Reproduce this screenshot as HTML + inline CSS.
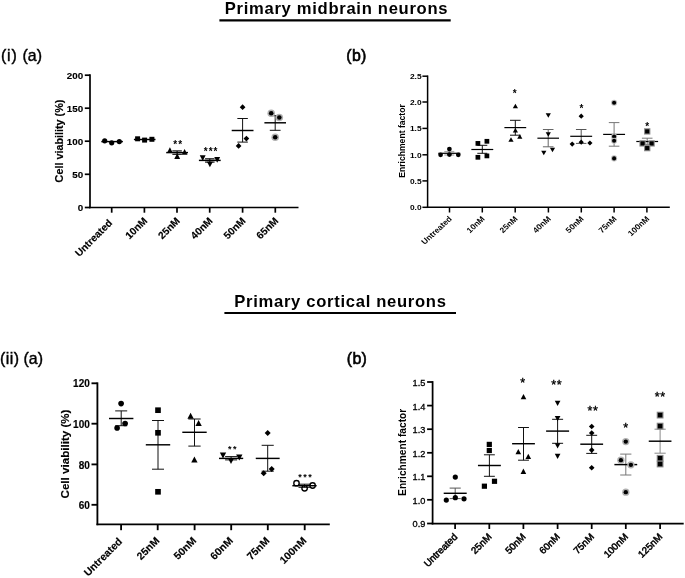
<!DOCTYPE html>
<html lang="en"><head><meta charset="utf-8"><title>Figure</title>
<style>
html,body{margin:0;padding:0;background:#fff;}
body{width:685px;height:578px;overflow:hidden;}
svg{display:block;font-family:'Liberation Sans', Arial, sans-serif;}
</style></head><body>
<svg width="685" height="578" viewBox="0 0 685 578" font-family="'Liberation Sans', Arial, sans-serif">
<rect width="685" height="578" fill="#fff"/>
<line x1="90.00" y1="74.35" x2="90.00" y2="208.35" stroke="#000" stroke-width="1.7" stroke-linecap="butt"/>
<line x1="89.15" y1="207.50" x2="298.50" y2="207.50" stroke="#000" stroke-width="1.7" stroke-linecap="butt"/>
<line x1="84.80" y1="207.50" x2="90.00" y2="207.50" stroke="#000" stroke-width="1.7" stroke-linecap="butt"/>
<text x="83.20" y="211.03" font-size="9.8" font-weight="bold" text-anchor="end" fill="#000" stroke="#000" stroke-width="0.15">0</text>
<line x1="84.80" y1="174.30" x2="90.00" y2="174.30" stroke="#000" stroke-width="1.7" stroke-linecap="butt"/>
<text x="83.20" y="177.83" font-size="9.8" font-weight="bold" text-anchor="end" fill="#000" stroke="#000" stroke-width="0.15">50</text>
<line x1="84.80" y1="141.20" x2="90.00" y2="141.20" stroke="#000" stroke-width="1.7" stroke-linecap="butt"/>
<text x="83.20" y="144.73" font-size="9.8" font-weight="bold" text-anchor="end" fill="#000" stroke="#000" stroke-width="0.15">100</text>
<line x1="84.80" y1="108.20" x2="90.00" y2="108.20" stroke="#000" stroke-width="1.7" stroke-linecap="butt"/>
<text x="83.20" y="111.73" font-size="9.8" font-weight="bold" text-anchor="end" fill="#000" stroke="#000" stroke-width="0.15">150</text>
<line x1="84.80" y1="75.20" x2="90.00" y2="75.20" stroke="#000" stroke-width="1.7" stroke-linecap="butt"/>
<text x="83.20" y="78.73" font-size="9.8" font-weight="bold" text-anchor="end" fill="#000" stroke="#000" stroke-width="0.15">200</text>
<line x1="111.70" y1="207.50" x2="111.70" y2="212.70" stroke="#000" stroke-width="1.7" stroke-linecap="butt"/>
<text x="112.90" y="223.70" font-size="10.2" font-weight="bold" text-anchor="end" fill="#000" transform="rotate(-45 112.90 223.70)" stroke="#000" stroke-width="0.15">Untreated</text>
<line x1="144.40" y1="207.50" x2="144.40" y2="212.70" stroke="#000" stroke-width="1.7" stroke-linecap="butt"/>
<text x="148.00" y="221.40" font-size="10.2" font-weight="bold" text-anchor="end" fill="#000" transform="rotate(-45 148.00 221.40)" stroke="#000" stroke-width="0.15">10nM</text>
<line x1="177.00" y1="207.50" x2="177.00" y2="212.70" stroke="#000" stroke-width="1.7" stroke-linecap="butt"/>
<text x="180.60" y="221.40" font-size="10.2" font-weight="bold" text-anchor="end" fill="#000" transform="rotate(-45 180.60 221.40)" stroke="#000" stroke-width="0.15">25nM</text>
<line x1="209.70" y1="207.50" x2="209.70" y2="212.70" stroke="#000" stroke-width="1.7" stroke-linecap="butt"/>
<text x="213.30" y="221.40" font-size="10.2" font-weight="bold" text-anchor="end" fill="#000" transform="rotate(-45 213.30 221.40)" stroke="#000" stroke-width="0.15">40nM</text>
<line x1="242.60" y1="207.50" x2="242.60" y2="212.70" stroke="#000" stroke-width="1.7" stroke-linecap="butt"/>
<text x="246.20" y="221.40" font-size="10.2" font-weight="bold" text-anchor="end" fill="#000" transform="rotate(-45 246.20 221.40)" stroke="#000" stroke-width="0.15">50nM</text>
<line x1="275.30" y1="207.50" x2="275.30" y2="212.70" stroke="#000" stroke-width="1.7" stroke-linecap="butt"/>
<text x="278.90" y="221.40" font-size="10.2" font-weight="bold" text-anchor="end" fill="#000" transform="rotate(-45 278.90 221.40)" stroke="#000" stroke-width="0.15">65nM</text>
<text x="63.20" y="141.00" font-size="10.8" font-weight="bold" text-anchor="middle" fill="#000" transform="rotate(-90 63.20 141.00)" stroke="#000" stroke-width="0.15">Cell viability (%)</text>
<line x1="101.30" y1="141.60" x2="122.90" y2="141.60" stroke="#000" stroke-width="1.45" stroke-linecap="butt"/>
<circle cx="104.70" cy="140.80" r="2.60" fill="#000"/>
<circle cx="111.70" cy="142.80" r="2.60" fill="#000"/>
<circle cx="119.30" cy="141.60" r="2.60" fill="#000"/>
<line x1="133.90" y1="139.50" x2="155.50" y2="139.50" stroke="#000" stroke-width="1.45" stroke-linecap="butt"/>
<rect x="135.11" y="136.31" width="4.98" height="4.98" fill="#000"/>
<rect x="142.11" y="137.61" width="4.98" height="4.98" fill="#000"/>
<rect x="149.41" y="136.81" width="4.98" height="4.98" fill="#000"/>
<line x1="177.10" y1="150.90" x2="177.10" y2="154.30" stroke="#000" stroke-width="1.1" stroke-linecap="butt"/>
<line x1="172.35" y1="150.90" x2="181.85" y2="150.90" stroke="#000" stroke-width="1.1" stroke-linecap="butt"/>
<line x1="172.35" y1="154.30" x2="181.85" y2="154.30" stroke="#000" stroke-width="1.1" stroke-linecap="butt"/>
<line x1="166.20" y1="152.60" x2="188.00" y2="152.60" stroke="#000" stroke-width="1.45" stroke-linecap="butt"/>
<polygon points="169.90,147.36 172.84,152.95 166.96,152.95" fill="#000"/>
<polygon points="177.20,153.36 180.14,158.95 174.26,158.95" fill="#000"/>
<polygon points="184.60,149.06 187.54,154.65 181.66,154.65" fill="#000"/>
<text x="173.31" y="148.40" font-size="10" font-weight="bold" text-anchor="start" fill="#000" letter-spacing="1.0">**</text>
<line x1="209.80" y1="158.80" x2="209.80" y2="162.10" stroke="#000" stroke-width="1.1" stroke-linecap="butt"/>
<line x1="205.05" y1="158.80" x2="214.55" y2="158.80" stroke="#000" stroke-width="1.1" stroke-linecap="butt"/>
<line x1="205.05" y1="162.10" x2="214.55" y2="162.10" stroke="#000" stroke-width="1.1" stroke-linecap="butt"/>
<line x1="198.90" y1="160.40" x2="220.70" y2="160.40" stroke="#000" stroke-width="1.45" stroke-linecap="butt"/>
<polygon points="202.70,160.94 205.64,155.35 199.76,155.35" fill="#000"/>
<polygon points="209.90,167.24 212.84,161.65 206.96,161.65" fill="#000"/>
<polygon points="217.20,162.64 220.14,157.05 214.26,157.05" fill="#000"/>
<text x="203.76" y="155.30" font-size="10" font-weight="bold" text-anchor="start" fill="#000" letter-spacing="1.0">***</text>
<line x1="242.60" y1="118.50" x2="242.60" y2="142.10" stroke="#111" stroke-width="1.0" stroke-linecap="butt"/>
<line x1="237.35" y1="118.50" x2="247.85" y2="118.50" stroke="#111" stroke-width="1.0" stroke-linecap="butt"/>
<line x1="237.35" y1="142.10" x2="247.85" y2="142.10" stroke="#111" stroke-width="1.0" stroke-linecap="butt"/>
<line x1="231.70" y1="130.50" x2="253.50" y2="130.50" stroke="#000" stroke-width="1.45" stroke-linecap="butt"/>
<polygon points="242.60,104.35 245.45,107.20 242.60,110.05 239.75,107.20" fill="#000"/>
<polygon points="246.40,135.75 249.25,138.60 246.40,141.45 243.55,138.60" fill="#000"/>
<polygon points="238.60,143.05 241.45,145.90 238.60,148.75 235.75,145.90" fill="#000"/>
<line x1="275.20" y1="115.70" x2="275.20" y2="130.30" stroke="#111" stroke-width="1.0" stroke-linecap="butt"/>
<line x1="269.80" y1="115.70" x2="280.60" y2="115.70" stroke="#111" stroke-width="1.0" stroke-linecap="butt"/>
<line x1="269.80" y1="130.30" x2="280.60" y2="130.30" stroke="#111" stroke-width="1.0" stroke-linecap="butt"/>
<line x1="264.40" y1="122.80" x2="286.00" y2="122.80" stroke="#000" stroke-width="1.45" stroke-linecap="butt"/>
<circle cx="271.20" cy="113.20" r="3.79" fill="#b0b0b0"/>
<circle cx="271.20" cy="113.20" r="2.29" fill="#000"/>
<circle cx="279.30" cy="117.50" r="3.79" fill="#b0b0b0"/>
<circle cx="279.30" cy="117.50" r="2.29" fill="#000"/>
<circle cx="275.20" cy="137.30" r="3.79" fill="#b0b0b0"/>
<circle cx="275.20" cy="137.30" r="2.29" fill="#000"/>
<line x1="427.60" y1="75.45" x2="427.60" y2="208.05" stroke="#000" stroke-width="1.5" stroke-linecap="butt"/>
<line x1="426.85" y1="207.30" x2="669.80" y2="207.30" stroke="#000" stroke-width="1.5" stroke-linecap="butt"/>
<line x1="422.40" y1="207.30" x2="427.60" y2="207.30" stroke="#000" stroke-width="1.5" stroke-linecap="butt"/>
<text transform="translate(421.60 210.11) scale(1.08 1)" font-size="7.8" font-weight="bold" text-anchor="end" fill="#000">0.0</text>
<line x1="422.40" y1="180.90" x2="427.60" y2="180.90" stroke="#000" stroke-width="1.5" stroke-linecap="butt"/>
<text transform="translate(421.60 183.71) scale(1.08 1)" font-size="7.8" font-weight="bold" text-anchor="end" fill="#000">0.5</text>
<line x1="422.40" y1="154.80" x2="427.60" y2="154.80" stroke="#000" stroke-width="1.5" stroke-linecap="butt"/>
<text transform="translate(421.60 157.61) scale(1.08 1)" font-size="7.8" font-weight="bold" text-anchor="end" fill="#000">1.0</text>
<line x1="422.40" y1="128.40" x2="427.60" y2="128.40" stroke="#000" stroke-width="1.5" stroke-linecap="butt"/>
<text transform="translate(421.60 131.21) scale(1.08 1)" font-size="7.8" font-weight="bold" text-anchor="end" fill="#000">1.5</text>
<line x1="422.40" y1="102.00" x2="427.60" y2="102.00" stroke="#000" stroke-width="1.5" stroke-linecap="butt"/>
<text transform="translate(421.60 104.81) scale(1.08 1)" font-size="7.8" font-weight="bold" text-anchor="end" fill="#000">2.0</text>
<line x1="422.40" y1="76.20" x2="427.60" y2="76.20" stroke="#000" stroke-width="1.5" stroke-linecap="butt"/>
<text transform="translate(421.60 79.01) scale(1.08 1)" font-size="7.8" font-weight="bold" text-anchor="end" fill="#000">2.5</text>
<line x1="449.50" y1="207.30" x2="449.50" y2="212.50" stroke="#000" stroke-width="1.5" stroke-linecap="butt"/>
<text transform="translate(452.50 219.30) scale(1.08 1) rotate(-45)" font-size="7.8" font-weight="bold" text-anchor="end" fill="#000">Untreated</text>
<line x1="482.30" y1="207.30" x2="482.30" y2="212.50" stroke="#000" stroke-width="1.5" stroke-linecap="butt"/>
<text transform="translate(485.30 219.30) scale(1.08 1) rotate(-45)" font-size="7.8" font-weight="bold" text-anchor="end" fill="#000">10nM</text>
<line x1="515.20" y1="207.30" x2="515.20" y2="212.50" stroke="#000" stroke-width="1.5" stroke-linecap="butt"/>
<text transform="translate(518.20 219.30) scale(1.08 1) rotate(-45)" font-size="7.8" font-weight="bold" text-anchor="end" fill="#000">25nM</text>
<line x1="548.40" y1="207.30" x2="548.40" y2="212.50" stroke="#000" stroke-width="1.5" stroke-linecap="butt"/>
<text transform="translate(551.40 219.30) scale(1.08 1) rotate(-45)" font-size="7.8" font-weight="bold" text-anchor="end" fill="#000">40nM</text>
<line x1="581.30" y1="207.30" x2="581.30" y2="212.50" stroke="#000" stroke-width="1.5" stroke-linecap="butt"/>
<text transform="translate(584.30 219.30) scale(1.08 1) rotate(-45)" font-size="7.8" font-weight="bold" text-anchor="end" fill="#000">50nM</text>
<line x1="614.10" y1="207.30" x2="614.10" y2="212.50" stroke="#000" stroke-width="1.5" stroke-linecap="butt"/>
<text transform="translate(617.10 219.30) scale(1.08 1) rotate(-45)" font-size="7.8" font-weight="bold" text-anchor="end" fill="#000">75nM</text>
<line x1="646.90" y1="207.30" x2="646.90" y2="212.50" stroke="#000" stroke-width="1.5" stroke-linecap="butt"/>
<text transform="translate(649.90 219.30) scale(1.08 1) rotate(-45)" font-size="7.8" font-weight="bold" text-anchor="end" fill="#000">100nM</text>
<text transform="translate(405.30 141.00) scale(1.08 1) rotate(-90)" font-size="8.6" font-weight="bold" text-anchor="middle" fill="#000">Enrichment factor</text>
<line x1="449.30" y1="151.60" x2="449.30" y2="155.00" stroke="#aaa" stroke-width="1.3" stroke-linecap="butt"/>
<line x1="444.30" y1="151.60" x2="454.30" y2="151.60" stroke="#aaa" stroke-width="1.3" stroke-linecap="butt"/>
<line x1="444.30" y1="155.00" x2="454.30" y2="155.00" stroke="#aaa" stroke-width="1.3" stroke-linecap="butt"/>
<line x1="438.35" y1="153.30" x2="460.25" y2="153.30" stroke="#000" stroke-width="1.2" stroke-linecap="butt"/>
<circle cx="440.60" cy="154.80" r="2.37" fill="#000"/>
<circle cx="449.40" cy="149.10" r="2.37" fill="#000"/>
<circle cx="449.40" cy="154.60" r="2.37" fill="#000"/>
<circle cx="458.30" cy="154.80" r="2.37" fill="#000"/>
<line x1="482.30" y1="145.30" x2="482.30" y2="153.30" stroke="#111" stroke-width="1.0" stroke-linecap="butt"/>
<line x1="477.30" y1="145.30" x2="487.30" y2="145.30" stroke="#111" stroke-width="1.0" stroke-linecap="butt"/>
<line x1="477.30" y1="153.30" x2="487.30" y2="153.30" stroke="#111" stroke-width="1.0" stroke-linecap="butt"/>
<line x1="471.35" y1="149.50" x2="493.25" y2="149.50" stroke="#000" stroke-width="1.2" stroke-linecap="butt"/>
<rect x="475.53" y="141.03" width="4.74" height="4.74" fill="#000"/>
<rect x="484.53" y="138.93" width="4.74" height="4.74" fill="#000"/>
<rect x="475.53" y="154.93" width="4.74" height="4.74" fill="#000"/>
<rect x="484.53" y="153.53" width="4.74" height="4.74" fill="#000"/>
<line x1="515.30" y1="120.30" x2="515.30" y2="135.20" stroke="#111" stroke-width="1.0" stroke-linecap="butt"/>
<line x1="510.00" y1="120.30" x2="520.60" y2="120.30" stroke="#111" stroke-width="1.0" stroke-linecap="butt"/>
<line x1="510.00" y1="135.20" x2="520.60" y2="135.20" stroke="#111" stroke-width="1.0" stroke-linecap="butt"/>
<line x1="504.40" y1="127.60" x2="526.20" y2="127.60" stroke="#000" stroke-width="1.2" stroke-linecap="butt"/>
<polygon points="515.40,103.69 518.00,108.24 512.80,108.24" fill="#000"/>
<polygon points="515.40,127.89 518.00,132.44 512.80,132.44" fill="#000"/>
<polygon points="511.00,137.19 513.60,141.74 508.40,141.74" fill="#000"/>
<polygon points="519.80,134.29 522.40,138.84 517.20,138.84" fill="#000"/>
<text x="512.85" y="96.70" font-size="10" font-weight="bold" text-anchor="start" fill="#000" letter-spacing="1.0">*</text>
<line x1="548.20" y1="129.50" x2="548.20" y2="146.80" stroke="#666" stroke-width="1.0" stroke-linecap="butt"/>
<line x1="542.90" y1="129.50" x2="553.50" y2="129.50" stroke="#666" stroke-width="1.0" stroke-linecap="butt"/>
<line x1="542.90" y1="146.80" x2="553.50" y2="146.80" stroke="#666" stroke-width="1.0" stroke-linecap="butt"/>
<line x1="537.40" y1="138.20" x2="559.00" y2="138.20" stroke="#000" stroke-width="1.2" stroke-linecap="butt"/>
<polygon points="548.30,117.81 550.90,113.26 545.70,113.26" fill="#000"/>
<polygon points="548.30,136.81 550.90,132.26 545.70,132.26" fill="#000"/>
<polygon points="543.80,155.31 546.40,150.76 541.20,150.76" fill="#000"/>
<polygon points="552.50,152.21 555.10,147.66 549.90,147.66" fill="#000"/>
<line x1="581.20" y1="129.50" x2="581.20" y2="143.40" stroke="#555" stroke-width="1.0" stroke-linecap="butt"/>
<line x1="575.95" y1="129.50" x2="586.45" y2="129.50" stroke="#555" stroke-width="1.0" stroke-linecap="butt"/>
<line x1="575.95" y1="143.40" x2="586.45" y2="143.40" stroke="#555" stroke-width="1.0" stroke-linecap="butt"/>
<line x1="570.25" y1="136.30" x2="592.15" y2="136.30" stroke="#000" stroke-width="1.2" stroke-linecap="butt"/>
<polygon points="581.20,113.60 583.80,116.20 581.20,118.80 578.60,116.20" fill="#000"/>
<polygon points="572.20,141.50 574.80,144.10 572.20,146.70 569.60,144.10" fill="#000"/>
<polygon points="581.20,139.60 583.80,142.20 581.20,144.80 578.60,142.20" fill="#000"/>
<polygon points="589.90,140.40 592.50,143.00 589.90,145.60 587.30,143.00" fill="#000"/>
<text x="579.45" y="112.00" font-size="10" font-weight="bold" text-anchor="start" fill="#000" letter-spacing="1.0">*</text>
<line x1="614.10" y1="122.60" x2="614.10" y2="146.20" stroke="#777" stroke-width="1.0" stroke-linecap="butt"/>
<line x1="608.80" y1="122.60" x2="619.40" y2="122.60" stroke="#777" stroke-width="1.0" stroke-linecap="butt"/>
<line x1="608.80" y1="146.20" x2="619.40" y2="146.20" stroke="#777" stroke-width="1.0" stroke-linecap="butt"/>
<line x1="603.15" y1="134.40" x2="625.05" y2="134.40" stroke="#000" stroke-width="1.2" stroke-linecap="butt"/>
<circle cx="614.10" cy="102.80" r="3.06" fill="#bdbdbd"/>
<circle cx="614.10" cy="102.80" r="2.06" fill="#000"/>
<circle cx="614.10" cy="136.50" r="3.06" fill="#bdbdbd"/>
<circle cx="614.10" cy="136.50" r="2.06" fill="#000"/>
<circle cx="614.10" cy="140.70" r="3.06" fill="#bdbdbd"/>
<circle cx="614.10" cy="140.70" r="2.06" fill="#000"/>
<circle cx="614.10" cy="158.40" r="3.06" fill="#bdbdbd"/>
<circle cx="614.10" cy="158.40" r="2.06" fill="#000"/>
<line x1="647.20" y1="138.20" x2="647.20" y2="144.70" stroke="#777" stroke-width="1.0" stroke-linecap="butt"/>
<line x1="641.90" y1="138.20" x2="652.50" y2="138.20" stroke="#777" stroke-width="1.0" stroke-linecap="butt"/>
<line x1="641.90" y1="144.70" x2="652.50" y2="144.70" stroke="#777" stroke-width="1.0" stroke-linecap="butt"/>
<line x1="636.30" y1="141.50" x2="658.10" y2="141.50" stroke="#000" stroke-width="1.2" stroke-linecap="butt"/>
<rect x="644.03" y="128.23" width="6.34" height="6.34" fill="#8a8a8a"/>
<rect x="645.13" y="129.33" width="4.14" height="4.14" fill="#000"/>
<rect x="639.43" y="140.23" width="6.34" height="6.34" fill="#8a8a8a"/>
<rect x="640.53" y="141.33" width="4.14" height="4.14" fill="#000"/>
<rect x="648.43" y="140.23" width="6.34" height="6.34" fill="#8a8a8a"/>
<rect x="649.53" y="141.33" width="4.14" height="4.14" fill="#000"/>
<rect x="644.03" y="144.93" width="6.34" height="6.34" fill="#8a8a8a"/>
<rect x="645.13" y="146.03" width="4.14" height="4.14" fill="#000"/>
<text x="645.25" y="129.50" font-size="10" font-weight="bold" text-anchor="start" fill="#000" letter-spacing="1.0">*</text>
<line x1="97.40" y1="382.38" x2="97.40" y2="525.22" stroke="#000" stroke-width="1.85" stroke-linecap="butt"/>
<line x1="96.48" y1="524.30" x2="329.80" y2="524.30" stroke="#000" stroke-width="1.85" stroke-linecap="butt"/>
<line x1="91.50" y1="504.80" x2="97.40" y2="504.80" stroke="#000" stroke-width="1.85" stroke-linecap="butt"/>
<text x="89.80" y="508.90" font-size="10.0" font-weight="bold" text-anchor="end" fill="#000" stroke="#000" stroke-width="0.15">60</text>
<line x1="91.50" y1="464.40" x2="97.40" y2="464.40" stroke="#000" stroke-width="1.85" stroke-linecap="butt"/>
<text x="89.80" y="468.50" font-size="10.0" font-weight="bold" text-anchor="end" fill="#000" stroke="#000" stroke-width="0.15">80</text>
<line x1="91.50" y1="423.70" x2="97.40" y2="423.70" stroke="#000" stroke-width="1.85" stroke-linecap="butt"/>
<text x="89.80" y="427.80" font-size="10.0" font-weight="bold" text-anchor="end" fill="#000" stroke="#000" stroke-width="0.15">100</text>
<line x1="91.50" y1="383.30" x2="97.40" y2="383.30" stroke="#000" stroke-width="1.85" stroke-linecap="butt"/>
<text x="89.80" y="387.40" font-size="10.0" font-weight="bold" text-anchor="end" fill="#000" stroke="#000" stroke-width="0.15">120</text>
<line x1="121.10" y1="524.30" x2="121.10" y2="530.20" stroke="#000" stroke-width="1.85" stroke-linecap="butt"/>
<text x="122.90" y="542.20" font-size="10.5" font-weight="bold" text-anchor="end" fill="#000" transform="rotate(-45 122.90 542.20)" stroke="#000" stroke-width="0.15">Untreated</text>
<line x1="157.70" y1="524.30" x2="157.70" y2="530.20" stroke="#000" stroke-width="1.85" stroke-linecap="butt"/>
<text x="160.10" y="541.40" font-size="10.5" font-weight="bold" text-anchor="end" fill="#000" transform="rotate(-45 160.10 541.40)" stroke="#000" stroke-width="0.15">25nM</text>
<line x1="194.60" y1="524.30" x2="194.60" y2="530.20" stroke="#000" stroke-width="1.85" stroke-linecap="butt"/>
<text x="197.00" y="541.40" font-size="10.5" font-weight="bold" text-anchor="end" fill="#000" transform="rotate(-45 197.00 541.40)" stroke="#000" stroke-width="0.15">50nM</text>
<line x1="231.20" y1="524.30" x2="231.20" y2="530.20" stroke="#000" stroke-width="1.85" stroke-linecap="butt"/>
<text x="233.60" y="541.40" font-size="10.5" font-weight="bold" text-anchor="end" fill="#000" transform="rotate(-45 233.60 541.40)" stroke="#000" stroke-width="0.15">60nM</text>
<line x1="267.80" y1="524.30" x2="267.80" y2="530.20" stroke="#000" stroke-width="1.85" stroke-linecap="butt"/>
<text x="270.20" y="541.40" font-size="10.5" font-weight="bold" text-anchor="end" fill="#000" transform="rotate(-45 270.20 541.40)" stroke="#000" stroke-width="0.15">75nM</text>
<line x1="304.70" y1="524.30" x2="304.70" y2="530.20" stroke="#000" stroke-width="1.85" stroke-linecap="butt"/>
<text x="307.10" y="541.40" font-size="10.5" font-weight="bold" text-anchor="end" fill="#000" transform="rotate(-45 307.10 541.40)" stroke="#000" stroke-width="0.15">100nM</text>
<text x="68.90" y="454.00" font-size="11.6" font-weight="bold" text-anchor="middle" fill="#000" transform="rotate(-90 68.90 454.00)" stroke="#000" stroke-width="0.15">Cell viability (%)</text>
<line x1="121.20" y1="410.90" x2="121.20" y2="425.70" stroke="#111" stroke-width="1.0" stroke-linecap="butt"/>
<line x1="115.20" y1="410.90" x2="127.20" y2="410.90" stroke="#111" stroke-width="1.0" stroke-linecap="butt"/>
<line x1="115.20" y1="425.70" x2="127.20" y2="425.70" stroke="#111" stroke-width="1.0" stroke-linecap="butt"/>
<line x1="109.00" y1="418.50" x2="133.40" y2="418.50" stroke="#000" stroke-width="1.45" stroke-linecap="butt"/>
<circle cx="121.10" cy="403.60" r="2.82" fill="#000"/>
<circle cx="125.10" cy="423.50" r="2.82" fill="#000"/>
<circle cx="117.10" cy="428.00" r="2.82" fill="#000"/>
<line x1="158.00" y1="420.50" x2="158.00" y2="469.20" stroke="#111" stroke-width="1.0" stroke-linecap="butt"/>
<line x1="152.00" y1="420.50" x2="164.00" y2="420.50" stroke="#111" stroke-width="1.0" stroke-linecap="butt"/>
<line x1="152.00" y1="469.20" x2="164.00" y2="469.20" stroke="#111" stroke-width="1.0" stroke-linecap="butt"/>
<line x1="145.80" y1="444.80" x2="170.20" y2="444.80" stroke="#000" stroke-width="1.45" stroke-linecap="butt"/>
<rect x="155.18" y="407.38" width="5.64" height="5.64" fill="#000"/>
<rect x="155.18" y="429.98" width="5.64" height="5.64" fill="#000"/>
<rect x="155.18" y="488.98" width="5.64" height="5.64" fill="#000"/>
<line x1="194.50" y1="419.00" x2="194.50" y2="446.10" stroke="#111" stroke-width="1.0" stroke-linecap="butt"/>
<line x1="188.35" y1="419.00" x2="200.65" y2="419.00" stroke="#111" stroke-width="1.0" stroke-linecap="butt"/>
<line x1="188.35" y1="446.10" x2="200.65" y2="446.10" stroke="#111" stroke-width="1.0" stroke-linecap="butt"/>
<line x1="182.30" y1="432.30" x2="206.70" y2="432.30" stroke="#000" stroke-width="1.45" stroke-linecap="butt"/>
<polygon points="190.60,412.84 193.76,418.84 187.44,418.84" fill="#000"/>
<polygon points="198.60,420.04 201.76,426.04 195.44,426.04" fill="#000"/>
<polygon points="194.40,456.44 197.56,462.44 191.24,462.44" fill="#000"/>
<line x1="231.10" y1="456.60" x2="231.10" y2="459.90" stroke="#111" stroke-width="1.0" stroke-linecap="butt"/>
<line x1="225.10" y1="456.60" x2="237.10" y2="456.60" stroke="#111" stroke-width="1.0" stroke-linecap="butt"/>
<line x1="225.10" y1="459.90" x2="237.10" y2="459.90" stroke="#111" stroke-width="1.0" stroke-linecap="butt"/>
<line x1="219.00" y1="458.40" x2="243.20" y2="458.40" stroke="#000" stroke-width="1.45" stroke-linecap="butt"/>
<polygon points="223.00,458.56 226.16,452.56 219.84,452.56" fill="#000"/>
<polygon points="231.00,464.06 234.16,458.06 227.84,458.06" fill="#000"/>
<polygon points="239.30,460.56 242.46,454.56 236.14,454.56" fill="#000"/>
<text x="228.05" y="452.38" font-size="9" font-weight="bold" text-anchor="start" fill="#000" letter-spacing="1.5">**</text>
<line x1="267.70" y1="445.30" x2="267.70" y2="471.20" stroke="#111" stroke-width="1.0" stroke-linecap="butt"/>
<line x1="261.65" y1="445.30" x2="273.75" y2="445.30" stroke="#111" stroke-width="1.0" stroke-linecap="butt"/>
<line x1="261.65" y1="471.20" x2="273.75" y2="471.20" stroke="#111" stroke-width="1.0" stroke-linecap="butt"/>
<line x1="255.75" y1="458.40" x2="279.65" y2="458.40" stroke="#000" stroke-width="1.45" stroke-linecap="butt"/>
<polygon points="267.70,430.00 270.70,433.00 267.70,436.00 264.70,433.00" fill="#000"/>
<polygon points="271.70,465.90 274.70,468.90 271.70,471.90 268.70,468.90" fill="#000"/>
<polygon points="263.70,470.20 266.70,473.20 263.70,476.20 260.70,473.20" fill="#000"/>
<line x1="304.50" y1="484.20" x2="304.50" y2="487.30" stroke="#111" stroke-width="1.0" stroke-linecap="butt"/>
<line x1="298.50" y1="484.20" x2="310.50" y2="484.20" stroke="#111" stroke-width="1.0" stroke-linecap="butt"/>
<line x1="298.50" y1="487.30" x2="310.50" y2="487.30" stroke="#111" stroke-width="1.0" stroke-linecap="butt"/>
<line x1="292.35" y1="485.70" x2="316.65" y2="485.70" stroke="#000" stroke-width="1.45" stroke-linecap="butt"/>
<circle cx="296.50" cy="483.20" r="2.71" fill="none" stroke="#000" stroke-width="1.35"/>
<circle cx="304.60" cy="488.30" r="2.71" fill="none" stroke="#000" stroke-width="1.35"/>
<circle cx="312.60" cy="485.50" r="2.71" fill="none" stroke="#000" stroke-width="1.35"/>
<text x="298.35" y="480.28" font-size="9" font-weight="bold" text-anchor="start" fill="#000" letter-spacing="1.5">***</text>
<line x1="432.60" y1="381.12" x2="432.60" y2="524.38" stroke="#000" stroke-width="1.75" stroke-linecap="butt"/>
<line x1="431.73" y1="523.50" x2="683.70" y2="523.50" stroke="#000" stroke-width="1.75" stroke-linecap="butt"/>
<line x1="427.10" y1="523.50" x2="432.60" y2="523.50" stroke="#000" stroke-width="1.75" stroke-linecap="butt"/>
<text x="425.40" y="527.41" font-size="9.2" font-weight="normal" text-anchor="end" fill="#000" stroke="#000" stroke-width="0.3">0.9</text>
<line x1="427.10" y1="499.80" x2="432.60" y2="499.80" stroke="#000" stroke-width="1.75" stroke-linecap="butt"/>
<text x="425.40" y="503.71" font-size="9.2" font-weight="normal" text-anchor="end" fill="#000" stroke="#000" stroke-width="0.3">1.0</text>
<line x1="427.10" y1="476.30" x2="432.60" y2="476.30" stroke="#000" stroke-width="1.75" stroke-linecap="butt"/>
<text x="425.40" y="480.21" font-size="9.2" font-weight="normal" text-anchor="end" fill="#000" stroke="#000" stroke-width="0.3">1.1</text>
<line x1="427.10" y1="452.80" x2="432.60" y2="452.80" stroke="#000" stroke-width="1.75" stroke-linecap="butt"/>
<text x="425.40" y="456.71" font-size="9.2" font-weight="normal" text-anchor="end" fill="#000" stroke="#000" stroke-width="0.3">1.2</text>
<line x1="427.10" y1="429.20" x2="432.60" y2="429.20" stroke="#000" stroke-width="1.75" stroke-linecap="butt"/>
<text x="425.40" y="433.11" font-size="9.2" font-weight="normal" text-anchor="end" fill="#000" stroke="#000" stroke-width="0.3">1.3</text>
<line x1="427.10" y1="405.60" x2="432.60" y2="405.60" stroke="#000" stroke-width="1.75" stroke-linecap="butt"/>
<text x="425.40" y="409.51" font-size="9.2" font-weight="normal" text-anchor="end" fill="#000" stroke="#000" stroke-width="0.3">1.4</text>
<line x1="427.10" y1="382.00" x2="432.60" y2="382.00" stroke="#000" stroke-width="1.75" stroke-linecap="butt"/>
<text x="425.40" y="385.91" font-size="9.2" font-weight="normal" text-anchor="end" fill="#000" stroke="#000" stroke-width="0.3">1.5</text>
<line x1="455.10" y1="523.50" x2="455.10" y2="529.00" stroke="#000" stroke-width="1.75" stroke-linecap="butt"/>
<text x="458.00" y="537.40" font-size="9.7" font-weight="normal" text-anchor="end" fill="#000" transform="rotate(-45 458.00 537.40)" stroke="#000" stroke-width="0.5">Untreated</text>
<line x1="489.30" y1="523.50" x2="489.30" y2="529.00" stroke="#000" stroke-width="1.75" stroke-linecap="butt"/>
<text x="492.20" y="537.40" font-size="9.7" font-weight="normal" text-anchor="end" fill="#000" transform="rotate(-45 492.20 537.40)" stroke="#000" stroke-width="0.5">25nM</text>
<line x1="523.40" y1="523.50" x2="523.40" y2="529.00" stroke="#000" stroke-width="1.75" stroke-linecap="butt"/>
<text x="526.30" y="537.40" font-size="9.7" font-weight="normal" text-anchor="end" fill="#000" transform="rotate(-45 526.30 537.40)" stroke="#000" stroke-width="0.5">50nM</text>
<line x1="557.60" y1="523.50" x2="557.60" y2="529.00" stroke="#000" stroke-width="1.75" stroke-linecap="butt"/>
<text x="560.50" y="537.40" font-size="9.7" font-weight="normal" text-anchor="end" fill="#000" transform="rotate(-45 560.50 537.40)" stroke="#000" stroke-width="0.5">60nM</text>
<line x1="591.70" y1="523.50" x2="591.70" y2="529.00" stroke="#000" stroke-width="1.75" stroke-linecap="butt"/>
<text x="594.60" y="537.40" font-size="9.7" font-weight="normal" text-anchor="end" fill="#000" transform="rotate(-45 594.60 537.40)" stroke="#000" stroke-width="0.5">75nM</text>
<line x1="625.80" y1="523.50" x2="625.80" y2="529.00" stroke="#000" stroke-width="1.75" stroke-linecap="butt"/>
<text x="628.70" y="537.40" font-size="9.7" font-weight="normal" text-anchor="end" fill="#000" transform="rotate(-45 628.70 537.40)" stroke="#000" stroke-width="0.5">100nM</text>
<line x1="660.10" y1="523.50" x2="660.10" y2="529.00" stroke="#000" stroke-width="1.75" stroke-linecap="butt"/>
<text x="663.00" y="537.40" font-size="9.7" font-weight="normal" text-anchor="end" fill="#000" transform="rotate(-45 663.00 537.40)" stroke="#000" stroke-width="0.5">125nM</text>
<text x="406.50" y="452.30" font-size="10.2" font-weight="bold" text-anchor="middle" fill="#000" transform="rotate(-90 406.50 452.30)">Enrichment factor</text>
<line x1="455.20" y1="488.10" x2="455.20" y2="498.60" stroke="#555" stroke-width="1.0" stroke-linecap="butt"/>
<line x1="449.65" y1="488.10" x2="460.75" y2="488.10" stroke="#555" stroke-width="1.0" stroke-linecap="butt"/>
<line x1="449.65" y1="498.60" x2="460.75" y2="498.60" stroke="#555" stroke-width="1.0" stroke-linecap="butt"/>
<line x1="443.70" y1="493.30" x2="466.70" y2="493.30" stroke="#000" stroke-width="1.45" stroke-linecap="butt"/>
<circle cx="455.30" cy="477.10" r="2.60" fill="#000"/>
<circle cx="446.30" cy="500.10" r="2.60" fill="#000"/>
<circle cx="455.30" cy="497.70" r="2.60" fill="#000"/>
<circle cx="464.00" cy="498.80" r="2.60" fill="#000"/>
<line x1="489.40" y1="454.80" x2="489.40" y2="476.30" stroke="#111" stroke-width="1.0" stroke-linecap="butt"/>
<line x1="483.95" y1="454.80" x2="494.85" y2="454.80" stroke="#111" stroke-width="1.0" stroke-linecap="butt"/>
<line x1="483.95" y1="476.30" x2="494.85" y2="476.30" stroke="#111" stroke-width="1.0" stroke-linecap="butt"/>
<line x1="477.95" y1="465.50" x2="500.85" y2="465.50" stroke="#000" stroke-width="1.45" stroke-linecap="butt"/>
<rect x="486.70" y="441.80" width="5.20" height="5.20" fill="#000"/>
<rect x="486.70" y="447.90" width="5.20" height="5.20" fill="#000"/>
<rect x="491.90" y="478.70" width="5.20" height="5.20" fill="#000"/>
<rect x="481.80" y="483.60" width="5.20" height="5.20" fill="#000"/>
<line x1="523.50" y1="427.50" x2="523.50" y2="460.20" stroke="#111" stroke-width="1.0" stroke-linecap="butt"/>
<line x1="518.05" y1="427.50" x2="528.95" y2="427.50" stroke="#111" stroke-width="1.0" stroke-linecap="butt"/>
<line x1="518.05" y1="460.20" x2="528.95" y2="460.20" stroke="#111" stroke-width="1.0" stroke-linecap="butt"/>
<line x1="512.10" y1="443.70" x2="534.90" y2="443.70" stroke="#000" stroke-width="1.45" stroke-linecap="butt"/>
<polygon points="523.50,393.98 526.32,399.34 520.68,399.34" fill="#000"/>
<polygon points="518.30,448.98 521.12,454.34 515.48,454.34" fill="#000"/>
<polygon points="528.30,453.68 531.12,459.04 525.48,459.04" fill="#000"/>
<polygon points="523.40,468.58 526.22,473.94 520.58,473.94" fill="#000"/>
<text x="520.27" y="386.52" font-size="12.5" font-weight="normal" text-anchor="start" fill="#000" letter-spacing="0.5" stroke="#000" stroke-width="0.35">*</text>
<line x1="557.60" y1="419.30" x2="557.60" y2="443.30" stroke="#111" stroke-width="1.0" stroke-linecap="butt"/>
<line x1="552.10" y1="419.30" x2="563.10" y2="419.30" stroke="#111" stroke-width="1.0" stroke-linecap="butt"/>
<line x1="552.10" y1="443.30" x2="563.10" y2="443.30" stroke="#111" stroke-width="1.0" stroke-linecap="butt"/>
<line x1="546.10" y1="431.10" x2="569.10" y2="431.10" stroke="#000" stroke-width="1.45" stroke-linecap="butt"/>
<polygon points="557.60,406.12 560.42,400.76 554.78,400.76" fill="#000"/>
<polygon points="557.60,421.32 560.42,415.96 554.78,415.96" fill="#000"/>
<polygon points="557.60,448.52 560.42,443.16 554.78,443.16" fill="#000"/>
<polygon points="557.60,459.02 560.42,453.66 554.78,453.66" fill="#000"/>
<text x="551.29" y="389.32" font-size="12.5" font-weight="normal" text-anchor="start" fill="#000" letter-spacing="0.5" stroke="#000" stroke-width="0.35">**</text>
<line x1="591.70" y1="435.30" x2="591.70" y2="453.40" stroke="#111" stroke-width="1.0" stroke-linecap="butt"/>
<line x1="586.25" y1="435.30" x2="597.15" y2="435.30" stroke="#111" stroke-width="1.0" stroke-linecap="butt"/>
<line x1="586.25" y1="453.40" x2="597.15" y2="453.40" stroke="#111" stroke-width="1.0" stroke-linecap="butt"/>
<line x1="580.30" y1="444.20" x2="603.10" y2="444.20" stroke="#000" stroke-width="1.45" stroke-linecap="butt"/>
<polygon points="591.70,423.70 594.50,426.50 591.70,429.30 588.90,426.50" fill="#000"/>
<polygon points="591.70,430.20 594.50,433.00 591.70,435.80 588.90,433.00" fill="#000"/>
<polygon points="591.70,447.30 594.50,450.10 591.70,452.90 588.90,450.10" fill="#000"/>
<polygon points="591.70,465.00 594.50,467.80 591.70,470.60 588.90,467.80" fill="#000"/>
<text x="587.59" y="415.02" font-size="12.5" font-weight="normal" text-anchor="start" fill="#000" letter-spacing="0.5" stroke="#000" stroke-width="0.35">**</text>
<line x1="625.80" y1="454.10" x2="625.80" y2="475.00" stroke="#777" stroke-width="1.0" stroke-linecap="butt"/>
<line x1="620.20" y1="454.10" x2="631.40" y2="454.10" stroke="#777" stroke-width="1.0" stroke-linecap="butt"/>
<line x1="620.20" y1="475.00" x2="631.40" y2="475.00" stroke="#777" stroke-width="1.0" stroke-linecap="butt"/>
<line x1="614.40" y1="464.60" x2="637.20" y2="464.60" stroke="#000" stroke-width="1.45" stroke-linecap="butt"/>
<circle cx="625.80" cy="441.60" r="3.67" fill="#b0b0b0"/>
<circle cx="625.80" cy="441.60" r="2.17" fill="#000"/>
<circle cx="620.90" cy="460.20" r="3.67" fill="#b0b0b0"/>
<circle cx="620.90" cy="460.20" r="2.17" fill="#000"/>
<circle cx="630.90" cy="464.80" r="3.67" fill="#b0b0b0"/>
<circle cx="630.90" cy="464.80" r="2.17" fill="#000"/>
<circle cx="625.80" cy="492.20" r="3.67" fill="#b0b0b0"/>
<circle cx="625.80" cy="492.20" r="2.17" fill="#000"/>
<text x="623.17" y="431.82" font-size="12.5" font-weight="normal" text-anchor="start" fill="#000" letter-spacing="0.5" stroke="#000" stroke-width="0.35">*</text>
<line x1="660.10" y1="429.20" x2="660.10" y2="453.20" stroke="#888" stroke-width="1.0" stroke-linecap="butt"/>
<line x1="654.50" y1="429.20" x2="665.70" y2="429.20" stroke="#888" stroke-width="1.0" stroke-linecap="butt"/>
<line x1="654.50" y1="453.20" x2="665.70" y2="453.20" stroke="#888" stroke-width="1.0" stroke-linecap="butt"/>
<line x1="648.75" y1="441.20" x2="671.45" y2="441.20" stroke="#000" stroke-width="1.45" stroke-linecap="butt"/>
<rect x="656.70" y="411.70" width="6.80" height="6.80" fill="#8a8a8a"/>
<rect x="657.80" y="412.80" width="4.60" height="4.60" fill="#000"/>
<rect x="656.70" y="422.70" width="6.80" height="6.80" fill="#8a8a8a"/>
<rect x="657.80" y="423.80" width="4.60" height="4.60" fill="#000"/>
<rect x="656.70" y="454.90" width="6.80" height="6.80" fill="#8a8a8a"/>
<rect x="657.80" y="456.00" width="4.60" height="4.60" fill="#000"/>
<rect x="656.70" y="460.60" width="6.80" height="6.80" fill="#8a8a8a"/>
<rect x="657.80" y="461.70" width="4.60" height="4.60" fill="#000"/>
<text x="654.79" y="401.32" font-size="12.5" font-weight="normal" text-anchor="start" fill="#000" letter-spacing="0.5" stroke="#000" stroke-width="0.35">**</text>
<text x="224.80" y="13.90" font-size="16.6" font-weight="bold" text-anchor="start" fill="#000" letter-spacing="0.7">Primary midbrain neurons</text>
<line x1="219.40" y1="20.30" x2="450.70" y2="20.30" stroke="#000" stroke-width="2.2" stroke-linecap="butt"/>
<text x="234.30" y="307.20" font-size="16.6" font-weight="bold" text-anchor="start" fill="#000" letter-spacing="0.7">Primary cortical neurons</text>
<line x1="224.40" y1="313.00" x2="456.00" y2="313.00" stroke="#000" stroke-width="2.2" stroke-linecap="butt"/>
<text x="1.00" y="60.90" font-size="15.9" font-weight="normal" text-anchor="start" fill="#000" stroke="#000" stroke-width="0.4" letter-spacing="0.8">(i)</text>
<text x="22.50" y="60.90" font-size="15.9" font-weight="normal" text-anchor="start" fill="#000" stroke="#000" stroke-width="0.4">(a)</text>
<text x="346.30" y="60.90" font-size="15.9" font-weight="normal" text-anchor="start" fill="#000" stroke="#000" stroke-width="0.6" letter-spacing="0.3">(b)</text>
<text x="0.00" y="363.90" font-size="15.9" font-weight="normal" text-anchor="start" fill="#000" stroke="#000" stroke-width="0.4" letter-spacing="0.45">(ii)</text>
<text x="23.50" y="363.90" font-size="15.9" font-weight="normal" text-anchor="start" fill="#000" stroke="#000" stroke-width="0.4">(a)</text>
<text x="346.80" y="364.00" font-size="15.9" font-weight="normal" text-anchor="start" fill="#000" stroke="#000" stroke-width="0.6" letter-spacing="0.3">(b)</text>
</svg>
</body></html>
